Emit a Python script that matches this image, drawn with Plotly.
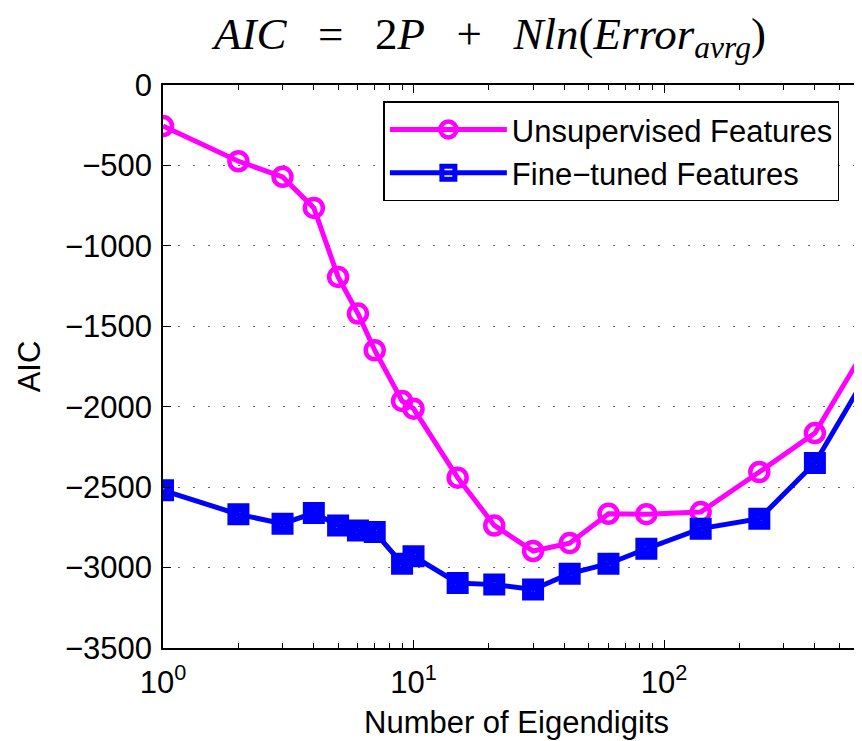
import plotly.graph_objects as go

# Data
eigendigits = [1, 2, 3, 4, 5, 6, 7, 9, 10, 15, 21, 30, 42, 60, 85, 140, 240, 400, 660]
aic_unsupervised = [-255, -474, -571, -764, -1193, -1421, -1649, -1964, -2012, -2441,
                    -2738, -2897, -2848, -2665, -2668, -2655, -2406, -2164, -1598]
aic_finetuned = [-2520, -2669, -2727, -2661, -2738, -2769, -2779, -2976, -2930, -3096,
                 -3106, -3136, -3038, -2976, -2883, -2758, -2696, -2350, -1775]

y_ticks = [0, -500, -1000, -1500, -2000, -2500, -3000, -3500]
x_major = [1, 10, 100]
x_major_text = ["10<sup>0</sup>", "10<sup>1</sup>", "10<sup>2</sup>"]
x_minor = [2, 3, 4, 5, 6, 7, 8, 9, 20, 30, 40, 50, 60, 70, 80, 90, 200, 300, 400, 500, 600, 700, 800, 900]

FONT = "Liberation Sans, Arial, sans-serif"
SP = "\u2002\u2009"

fig = go.Figure()
fig.add_trace(go.Scatter(
    x=eigendigits, y=aic_unsupervised, mode="lines+markers",
    name="Unsupervised Features",
    line=dict(color="#FF00FF", width=5),
    marker=dict(symbol="circle-open", size=18, color="#FF00FF", line=dict(width=4.5, color="#FF00FF")),
))
fig.add_trace(go.Scatter(
    x=eigendigits, y=aic_finetuned, mode="lines+markers",
    name="Fine\u2212tuned Features",
    line=dict(color="#0000FF", width=5),
    marker=dict(symbol="square-open", size=13, color="#0000FF", line=dict(width=9, color="#0000FF")),
))

# the page body adds an 8 px offset; margins compensate for it
fig.update_layout(
    width=862, height=733,
    margin=dict(l=154.5, r=0, t=77, b=93.4),
    paper_bgcolor="white", plot_bgcolor="white",
    font=dict(family=FONT, size=31, color="black"),
    title=dict(
        text=f"<i>AIC</i>{SP}={SP}2<i>P</i>{SP}+{SP}<i>Nln</i>(<i>Error</i><sub><i>avrg</i></sub>)",
        font=dict(family="Liberation Serif, Times New Roman, serif", size=45, color="black"),
        xref="container", x=482 / 862, xanchor="center",
        yref="container", y=1 - 25 / 733, yanchor="middle",
    ),
    showlegend=True,
    legend=dict(
        x=0.3117, y=0.971, xanchor="left", yanchor="top",
        bgcolor="white", bordercolor="black", borderwidth=1.5,
        font=dict(family=FONT, size=31), itemwidth=117,
    ),
    xaxis=dict(
        type="log", range=[0, 2.822], automargin=False,
        tickvals=x_major, ticktext=x_major_text,
        ticks="inside", ticklen=8, tickwidth=1.2, tickcolor="black",
        minor=dict(tickvals=x_minor, ticks="inside", ticklen=5, tickwidth=1.2, tickcolor="black", showgrid=False),
        showline=True, linecolor="black", linewidth=1.5, mirror="ticks",
        showgrid=False, zeroline=False, ticklabelstandoff=6,
        tickfont=dict(size=31),
        title=dict(text="Number of Eigendigits", font=dict(size=31), standoff=12),
    ),
    yaxis=dict(
        range=[-3500, 0], tickvals=y_ticks, automargin=False,
        ticks="inside", ticklen=8, tickwidth=1.2, tickcolor="black",
        showline=True, linecolor="black", linewidth=1.5, mirror=False,
        showgrid=True, gridcolor="#666666", gridwidth=1, griddash="2px,13px",
        zeroline=False, ticklabelstandoff=3,
        tickfont=dict(size=31),
        title=dict(text="AIC", font=dict(size=31), standoff=15),
    ),
)

fig.write_html("out.html")
